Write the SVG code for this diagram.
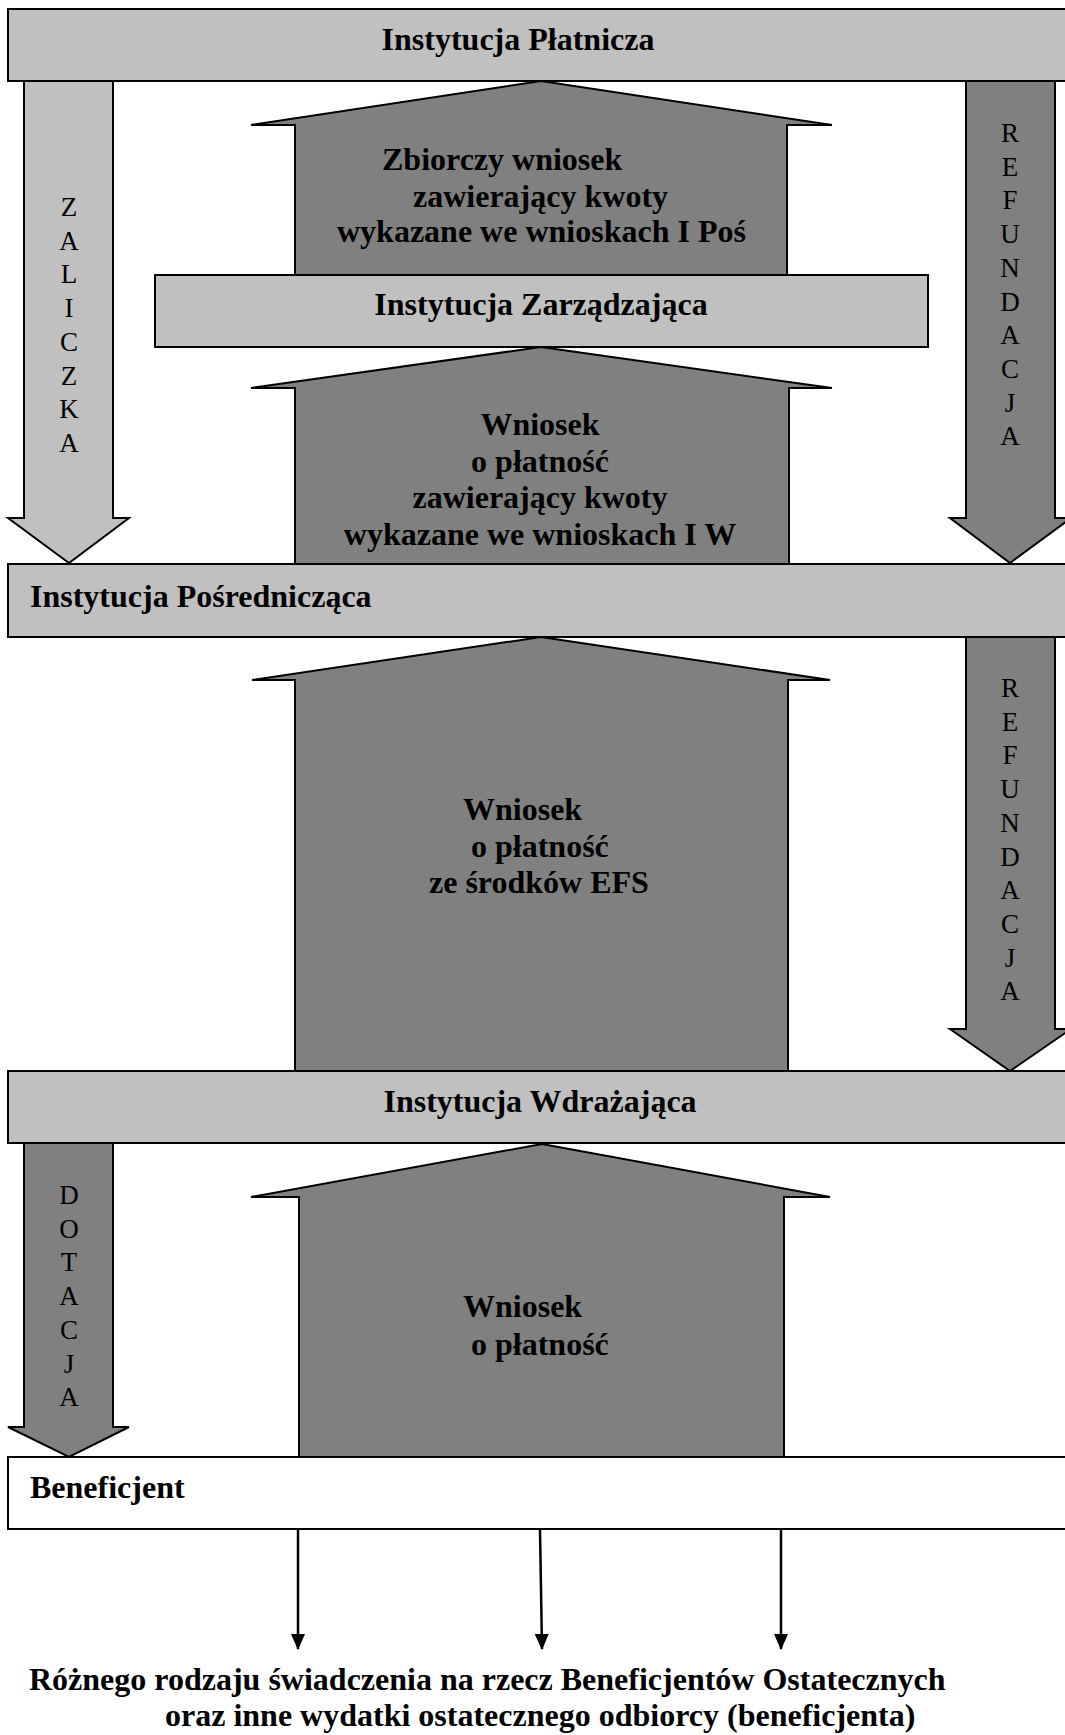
<svg xmlns="http://www.w3.org/2000/svg" width="1065" height="1735" viewBox="0 0 1065 1735">
<defs>
<style>
.box{fill:#c0c0c0;stroke:#000;stroke-width:2}
.wbox{fill:#fff;stroke:#000;stroke-width:2}
.light{fill:#c0c0c0;stroke:#000;stroke-width:2;stroke-linejoin:miter}
.dark{fill:#808080;stroke:#000;stroke-width:2;stroke-linejoin:miter}
.t{font-family:"Liberation Serif","Times New Roman",serif;font-weight:bold;font-size:32px;fill:#000}
.v{font-family:"Liberation Serif","Times New Roman",serif;font-size:27px;fill:#000;text-anchor:middle}
.c{text-anchor:middle}
.ln{stroke:#000;stroke-width:2.5;fill:none}
</style>
<marker id="ah" markerWidth="16" markerHeight="14" refX="15" refY="7" orient="auto" markerUnits="userSpaceOnUse" viewBox="0 0 16 14">
<path d="M0,0 L16,7 L0,14 Z" fill="#000"/>
</marker>
</defs>
<rect width="1065" height="1735" fill="#fff"/>

<g id="connectors">
  <g id="arrow-zaliczka">
    <polygon class="light" points="24,81 113,81 113,518 129,518 69,563 8,518 24,518"/>
    <g class="v">
      <text x="69" y="216">Z</text><text x="69" y="249.7">A</text><text x="69" y="283.4">L</text><text x="69" y="317.1">I</text>
      <text x="69" y="350.8">C</text><text x="69" y="384.5">Z</text><text x="69" y="418.2">K</text><text x="69" y="452">A</text>
    </g>
  </g>
  <g id="arrow-refundacja-1">
    <polygon class="dark" points="966,81 1055,81 1055,518 1071,518 1010,563 950,518 966,518"/>
    <g class="v">
      <text x="1010" y="142">R</text><text x="1010" y="175.7">E</text><text x="1010" y="209.4">F</text><text x="1010" y="243.1">U</text>
      <text x="1010" y="276.8">N</text><text x="1010" y="310.5">D</text><text x="1010" y="344.2">A</text><text x="1010" y="377.9">C</text>
      <text x="1010" y="411.6">J</text><text x="1010" y="445.3">A</text>
    </g>
  </g>
  <g id="arrow-zbiorczy">
    <polygon class="dark" points="295,276 295,125 251,125 541,81 832,125 787,125 787,276"/>
    <text class="t" x="382" y="170">Zbiorczy wniosek</text>
    <text class="t" x="413" y="207">zawierający kwoty</text>
    <text class="t" x="337" y="242">wykazane we wnioskach I Poś</text>
  </g>
  <g id="arrow-wniosek-iw">
    <polygon class="dark" points="295,565 295,388 251,388 541,347 832,388 789,388 789,565"/>
    <g class="t c">
      <text x="540" y="435">Wniosek</text>
      <text x="540" y="472">o płatność</text>
      <text x="540" y="508">zawierający kwoty</text>
      <text x="540" y="545">wykazane we wnioskach I W</text>
    </g>
  </g>
  <g id="arrow-efs">
    <polygon class="dark" points="295,1072 295,680 252,680 541,637 830,680 788,680 788,1072"/>
    <text class="t" x="463" y="820">Wniosek</text>
    <text class="t" x="471" y="857">o płatność</text>
    <text class="t" x="429" y="893">ze środków EFS</text>
  </g>
  <g id="arrow-refundacja-2">
    <polygon class="dark" points="966,637 1055,637 1055,1029 1071,1029 1010,1071 950,1029 966,1029"/>
    <g class="v">
      <text x="1010" y="697">R</text><text x="1010" y="730.7">E</text><text x="1010" y="764.4">F</text><text x="1010" y="798.1">U</text>
      <text x="1010" y="831.8">N</text><text x="1010" y="865.5">D</text><text x="1010" y="899.2">A</text><text x="1010" y="932.9">C</text>
      <text x="1010" y="966.6">J</text><text x="1010" y="1000.3">A</text>
    </g>
  </g>
  <g id="arrow-dotacja">
    <polygon class="dark" points="24,1143 113,1143 113,1427 129,1427 69,1457 8,1427 24,1427"/>
    <g class="v">
      <text x="69" y="1204">D</text><text x="69" y="1237.7">O</text><text x="69" y="1271.4">T</text><text x="69" y="1305.1">A</text>
      <text x="69" y="1338.8">C</text><text x="69" y="1372.5">J</text><text x="69" y="1406">A</text>
    </g>
  </g>
  <g id="arrow-wniosek-ben">
    <polygon class="dark" points="299,1458 299,1197 251,1197 542,1144 830,1197 784,1197 784,1458"/>
    <text class="t" x="463" y="1317">Wniosek</text>
    <text class="t" x="471" y="1355">o płatność</text>
  </g>
  <g id="arrows-out">
    <line class="ln" x1="298" y1="1530" x2="298" y2="1649" marker-end="url(#ah)"/>
    <line class="ln" x1="540" y1="1530" x2="542" y2="1649" marker-end="url(#ah)"/>
    <line class="ln" x1="781" y1="1530" x2="781" y2="1649" marker-end="url(#ah)"/>
  </g>
</g>

<g id="node-platnicza">
  <rect class="box" x="8" y="9" width="1070" height="72"/>
  <text class="t c" x="518" y="50">Instytucja Płatnicza</text>
</g>
<g id="node-zarzadzajaca">
  <rect class="box" x="155" y="275" width="773" height="72"/>
  <text class="t c" x="541" y="315">Instytucja Zarządzająca</text>
</g>
<g id="node-posredniczaca">
  <rect class="box" x="8" y="564" width="1070" height="73"/>
  <text class="t" x="30" y="607">Instytucja Pośrednicząca</text>
</g>
<g id="node-wdrazajaca">
  <rect class="box" x="8" y="1071" width="1070" height="72"/>
  <text class="t c" x="540" y="1112">Instytucja Wdrażająca</text>
</g>
<g id="node-beneficjent">
  <rect class="wbox" x="8" y="1457" width="1070" height="72"/>
  <text class="t" x="30" y="1498">Beneficjent</text>
</g>
<g id="node-swiadczenia">
  <text class="t" x="29" y="1690">Różnego rodzaju świadczenia na rzecz Beneficjentów Ostatecznych</text>
  <text class="t" x="165" y="1726">oraz inne wydatki ostatecznego odbiorcy (beneficjenta)</text>
</g>
</svg>
